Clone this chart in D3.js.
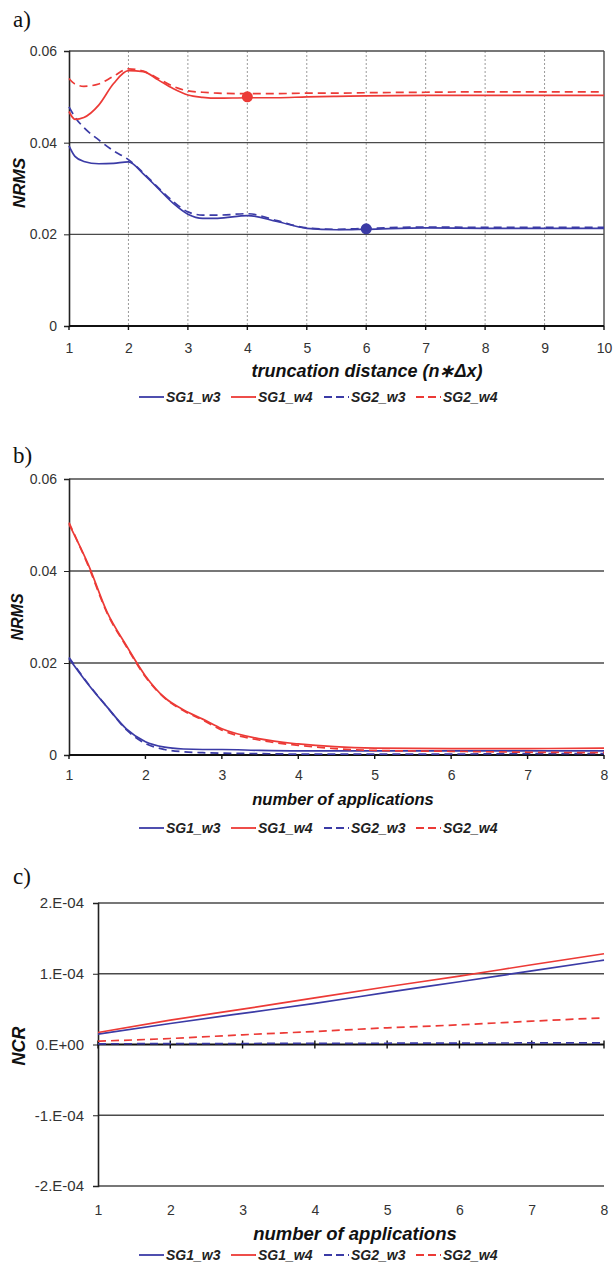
<!DOCTYPE html>
<html>
<head>
<meta charset="utf-8">
<script src="https://cdn.jsdelivr.net/npm/d3@7"></script>
<style>
html,body{margin:0;padding:0;background:#fff;}
text{font-family:"Liberation Sans",Arial,sans-serif;}
</style>
</head>
<body>
<svg id="chart" width="613" height="1264"></svg>
<script>
// ---------- DATA ----------
const seriesNames = ["SG1_w3", "SG1_w4", "SG2_w3", "SG2_w4"];

// Panel a: NRMS vs truncation distance
const aX = [1,1.1,1.25,1.5,1.75,2,2.25,2.5,2.75,3,3.25,3.5,4,4.5,5,5.5,6,7,8,9,10];
const aSG1_w3 = [0.0393,0.0370,0.0359,0.0354,0.0355,0.0358,0.0332,0.0300,0.0268,0.0244,0.0235,0.0235,0.0241,0.0228,0.0213,0.0210,0.0211,0.0214,0.0213,0.0213,0.0213];
const aSG1_w4 = [0.0468,0.0451,0.0455,0.0482,0.0529,0.0557,0.0555,0.0537,0.0518,0.0504,0.0499,0.0497,0.0498,0.0498,0.0500,0.0501,0.0502,0.0503,0.0503,0.0503,0.0503];
const aSG2_w3 = [0.0478,0.0456,0.0433,0.0406,0.0382,0.0363,0.0334,0.0302,0.0272,0.0249,0.0242,0.0242,0.0245,0.0230,0.0214,0.0211,0.0213,0.0216,0.0215,0.0215,0.0215];
const aSG2_w4 = [0.0540,0.0528,0.0523,0.0528,0.0545,0.0561,0.0556,0.0540,0.0523,0.0513,0.0510,0.0508,0.0507,0.0507,0.0508,0.0508,0.0509,0.0510,0.0511,0.0511,0.0511];
const aMarkers = [{x:4, y:0.0500, s:"SG1_w4"}, {x:6, y:0.0212, s:"SG1_w3"}];
const aXTicks = [1,2,3,4,5,6,7,8,9,10];
const aYTicks = [0,0.02,0.04,0.06];
const aYLabels = ["0","0.02","0.04","0.06"];

// Panel b: NRMS vs number of applications
const bX = [1,1.25,1.5,1.75,2,2.25,2.5,2.75,3,3.5,4,5,6,7,8];
const bSG1_w3 = [0.0210,0.0154,0.0104,0.0057,0.0029,0.0017,0.0013,0.0012,0.0012,0.0010,0.0009,0.0009,0.0009,0.0009,0.0009];
const bSG1_w4 = [0.0502,0.0415,0.0310,0.0238,0.0172,0.0125,0.0098,0.0078,0.0057,0.0035,0.0024,0.0015,0.0014,0.0014,0.0015];
const bSG2_w3 = [0.0212,0.0155,0.0104,0.0055,0.0025,0.0012,0.0007,0.0005,0.0004,0.0003,0.0002,0.0002,0.0002,0.0003,0.0003];
const bSG2_w4 = [0.0505,0.0412,0.0308,0.0236,0.0170,0.0124,0.0096,0.0076,0.0054,0.0032,0.0021,0.0010,0.0008,0.0006,0.0005];
const bXTicks = [1,2,3,4,5,6,7,8];
const bYTicks = [0,0.02,0.04,0.06];
const bYLabels = ["0","0.02","0.04","0.06"];

// Panel c: NCR vs number of applications
const cX = [1,2,3,4,5,6,7,8];
const cSG1_w3 = [1.46e-5,2.97e-5,4.40e-5,5.80e-5,7.36e-5,8.87e-5,10.40e-5,11.93e-5];
const cSG1_w4 = [1.70e-5,3.44e-5,5.00e-5,6.60e-5,8.16e-5,9.67e-5,11.27e-5,12.83e-5];
const cSG2_w3 = [0.10e-5,0.12e-5,0.14e-5,0.16e-5,0.18e-5,0.20e-5,0.22e-5,0.24e-5];
const cSG2_w4 = [0.47e-5,0.85e-5,1.37e-5,1.84e-5,2.36e-5,2.78e-5,3.30e-5,3.77e-5];
const cXTicks = [1,2,3,4,5,6,7,8];
const cYTicks = [-2e-4,-1e-4,0,1e-4,2e-4];
const cYLabels = ["-2.E-04","-1.E-04","0.E+00","1.E-04","2.E-04"];

// ---------- STYLE ----------
const BLUE = "#3b3ba6", RED = "#ec3a36";
const style = {
  SG1_w3: {color: BLUE, dash: null},
  SG1_w4: {color: RED, dash: null},
  SG2_w3: {color: BLUE, dash: "8,5"},
  SG2_w4: {color: RED, dash: "8,5"}
};

const svg = d3.select("#chart");
svg.append("rect").attr("width",613).attr("height",1264).attr("fill","#fff");

function panel(cfg) {
  const g = svg.append("g");
  const x = d3.scaleLinear().domain(cfg.xDomain).range([cfg.left, cfg.right]);
  const y = d3.scaleLinear().domain(cfg.yDomain).range([cfg.bottom, cfg.top]);

  // panel letter
  g.append("text").attr("x", 13).attr("y", cfg.letterY)
    .style("font-family", "'Liberation Serif','Times New Roman',serif")
    .style("font-size", "23px").attr("fill", "#111").text(cfg.letter);

  // vertical dotted grid
  if (cfg.vgrid) {
    g.selectAll(".vg").data(cfg.xTicks.filter(d => d !== cfg.xDomain[0] && d !== cfg.xDomain[1]))
      .enter().append("line")
      .attr("x1", d => x(d)).attr("x2", d => x(d))
      .attr("y1", cfg.top).attr("y2", cfg.bottom)
      .attr("stroke", "#9a9a9a").attr("stroke-width", 1).attr("stroke-dasharray", "2,2");
  }
  // horizontal grid
  g.selectAll(".hg").data(cfg.yTicks.filter(d => d !== cfg.axisY))
    .enter().append("line")
    .attr("x1", cfg.left).attr("x2", cfg.right)
    .attr("y1", d => y(d)).attr("y2", d => y(d))
    .attr("stroke", "#4a4a4a").attr("stroke-width", 1.4);

  // frame (panel a)
  if (cfg.box) {
    g.append("line").attr("x1", cfg.right).attr("x2", cfg.right).attr("y1", cfg.top).attr("y2", cfg.bottom)
      .attr("stroke", "#4a4a4a").attr("stroke-width", 1.4);
  }

  // y axis
  const yAxis = d3.axisLeft(y).tickValues(cfg.yTicks).tickSize(5).tickPadding(cfg.yPad)
    .tickFormat((d, i) => cfg.yLabels[i]);
  const ya = g.append("g").attr("transform", `translate(${cfg.left},0)`).call(yAxis);
  ya.select(".domain").attr("stroke", "#222").attr("stroke-width", 1.6);
  ya.selectAll(".tick line").attr("stroke", "#222");
  ya.selectAll("text").style("font-size", cfg.yFont + "px").attr("fill", "#333");

  // x axis labels
  const xAxis = d3.axisBottom(x).tickValues(cfg.xTicks).tickSize(0).tickPadding(0).tickFormat(d3.format("d"));
  const xa = g.append("g").attr("transform", `translate(0,${cfg.bottom})`).call(xAxis);
  xa.select(".domain").remove();
  xa.selectAll(".tick line").remove();
  xa.selectAll("text").attr("y", cfg.xLabelY - cfg.bottom).attr("dy", "0").style("font-size", cfg.xFont + "px").attr("fill", "#333");

  // axis line on the y=axisY baseline with ticks
  const by = y(cfg.axisY);
  g.append("line").attr("x1", cfg.left).attr("x2", cfg.right).attr("y1", by).attr("y2", by)
    .attr("stroke", "#111").attr("stroke-width", 1.8);
  g.selectAll(".xt").data(cfg.xTicks).enter().append("line")
    .attr("x1", d => x(d)).attr("x2", d => x(d))
    .attr("y1", by - cfg.tickUp).attr("y2", by + cfg.tickDown)
    .attr("stroke", "#111").attr("stroke-width", 1.4);

  // series lines
  const line = d3.line().x(d => x(d[0])).y(d => y(d[1])).curve(cfg.curve);
  const order = ["SG2_w3", "SG1_w3", "SG2_w4", "SG1_w4"];
  order.forEach(name => {
    const vals = cfg.series[name];
    const pts = cfg.xs.map((xv, i) => [xv, vals[i]]);
    g.append("path").datum(pts).attr("d", line)
      .attr("fill", "none").attr("stroke", style[name].color)
      .attr("stroke-width", 1.7)
      .attr("stroke-dasharray", style[name].dash);
  });

  // markers
  (cfg.markers || []).forEach(m => {
    g.append("circle").attr("cx", x(m.x)).attr("cy", y(m.y)).attr("r", 5.5)
      .attr("fill", style[m.s].color);
  });

  // axis titles
  g.append("text").attr("x", cfg.xTitleX).attr("y", cfg.xTitleY).attr("text-anchor", "middle")
    .style("font-size", cfg.titleFont + "px").style("font-weight", "bold").style("font-style", "italic")
    .attr("fill", "#111").text(cfg.xTitle);
  g.append("text").attr("transform", `translate(${cfg.yTitleX},${cfg.yTitleY}) rotate(-90)`)
    .attr("text-anchor", "middle")
    .style("font-size", cfg.yTitleFont + "px").style("font-weight", "bold").style("font-style", "italic")
    .attr("fill", "#111").text(cfg.yTitle);

  // legend
  const legX = [139, 231, 324, 416];
  seriesNames.forEach((name, i) => {
    const lx = legX[i];
    g.append("line").attr("x1", lx).attr("x2", lx + 25).attr("y1", cfg.legendY - 5).attr("y2", cfg.legendY - 5)
      .attr("stroke", style[name].color).attr("stroke-width", 1.8)
      .attr("stroke-dasharray", style[name].dash ? "8,4" : null);
    g.append("text").attr("x", lx + 27).attr("y", cfg.legendY)
      .style("font-size", cfg.legendFont + "px").style("font-weight", "bold").style("font-style", "italic")
      .attr("fill", "#222").text(name);
  });
}

panel({
  letter: "a)", letterY: 27,
  left: 69, right: 604, top: 51, bottom: 326,
  xDomain: [1, 10], yDomain: [0, 0.06],
  xTicks: aXTicks, yTicks: aYTicks, yLabels: aYLabels, axisY: 0,
  vgrid: true, box: true, tickUp: 0, tickDown: 4,
  xs: aX, series: {SG1_w3: aSG1_w3, SG1_w4: aSG1_w4, SG2_w3: aSG2_w3, SG2_w4: aSG2_w4},
  markers: aMarkers, curve: d3.curveMonotoneX,
  xLabelY: 353, xFont: 14, yFont: 14, yPad: 7,
  xTitle: "truncation distance (n\u2217\u0394x)", xTitleX: 367, xTitleY: 377, titleFont: 18,
  yTitle: "NRMS", yTitleX: 25, yTitleY: 183, yTitleFont: 17,
  legendY: 402, legendFont: 14
});

panel({
  letter: "b)", letterY: 463,
  left: 69, right: 604, top: 479, bottom: 755,
  xDomain: [1, 8], yDomain: [0, 0.06],
  xTicks: bXTicks, yTicks: bYTicks, yLabels: bYLabels, axisY: 0,
  vgrid: false, box: false, tickUp: 0, tickDown: 4,
  xs: bX, series: {SG1_w3: bSG1_w3, SG1_w4: bSG1_w4, SG2_w3: bSG2_w3, SG2_w4: bSG2_w4},
  curve: d3.curveMonotoneX,
  xLabelY: 780, xFont: 14, yFont: 14, yPad: 7,
  xTitle: "number of applications", xTitleX: 343, xTitleY: 805, titleFont: 16.5,
  yTitle: "NRMS", yTitleX: 23, yTitleY: 617, yTitleFont: 16,
  legendY: 833, legendFont: 14
});

panel({
  letter: "c)", letterY: 884,
  left: 98, right: 604, top: 903, bottom: 1186,
  xDomain: [1, 8], yDomain: [-2e-4, 2e-4],
  xTicks: cXTicks, yTicks: cYTicks, yLabels: cYLabels, axisY: 0,
  vgrid: false, box: false, tickUp: 4, tickDown: 4,
  xs: cX, series: {SG1_w3: cSG1_w3, SG1_w4: cSG1_w4, SG2_w3: cSG2_w3, SG2_w4: cSG2_w4},
  curve: d3.curveMonotoneX,
  xLabelY: 1215, xFont: 14, yFont: 15, yPad: 9,
  xTitle: "number of applications", xTitleX: 355, xTitleY: 1240, titleFont: 18.5,
  yTitle: "NCR", yTitleX: 25, yTitleY: 1046, yTitleFont: 18,
  legendY: 1260, legendFont: 14
});
</script>
</body>
</html>
